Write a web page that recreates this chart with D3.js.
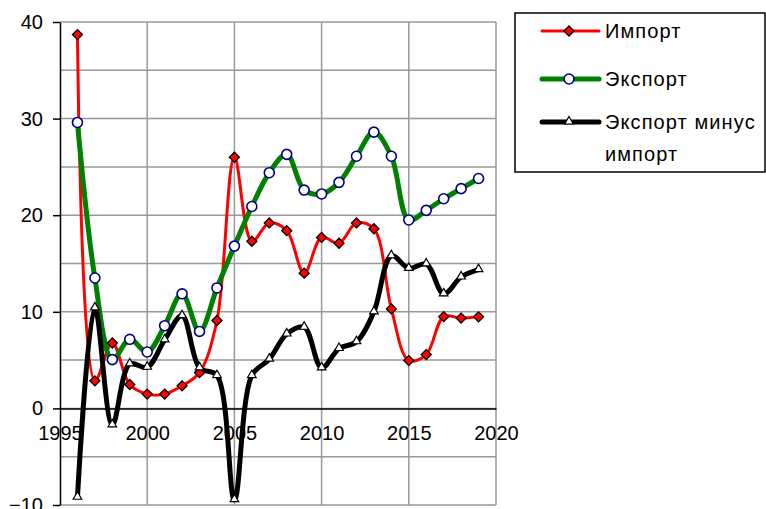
<!DOCTYPE html>
<html>
<head>
<meta charset="utf-8">
<script src="https://cdn.jsdelivr.net/npm/d3@7"></script>
<style>
  body { margin: 0; background: #fff; }
  text { font-family: "Liberation Sans", Arial, sans-serif; }
</style>
</head>
<body>
<div id="chart"></div>
<script>
"use strict";

var years = d3.range(1996, 2020);
var importVals = [38.7, 2.85, 6.77, 2.47, 1.48, 1.48, 2.34, 3.7, 9.1, 26.0, 17.3, 19.2,
                  18.4, 14.0, 17.7, 17.1, 19.2, 18.6, 10.3, 4.95, 5.57, 9.5, 9.35, 9.48];
var exportVals = [29.6, 13.5, 5.05, 7.15, 5.84, 8.56, 11.86, 7.97, 12.47, 16.8, 20.9, 24.4,
                  26.3, 22.6, 22.2, 23.4, 26.1, 28.6, 26.1, 19.5, 20.5, 21.7, 22.75, 23.8];
var balanceVals = [-9.2, 10.4, -1.7, 4.6, 4.26, 7.1, 9.6, 4.2, 3.4, -9.45, 3.4, 5.1,
                   7.7, 8.4, 4.2, 6.2, 6.9, 10.0, 15.8, 14.5, 14.95, 11.86, 13.6, 14.36];
var seriesNames = ["Импорт", "Экспорт", "Экспорт минус", "импорт"];
var xTicks = [1995, 2000, 2005, 2010, 2015, 2020];
var yTicks = [-10, 0, 10, 20, 30, 40];
var yGrid = d3.range(-10, 41, 5);

var width = 766, height = 509;
var svg = d3.select("#chart").append("svg")
  .attr("width", width)
  .attr("height", height);

// set the ranges
var x = d3.scaleLinear().domain([1995, 2020]).range([60, 496]);
var y = d3.scaleLinear().domain([-10, 40]).range([505, 22]);

// grid
svg.append("g").selectAll("line.h")
  .data(yGrid).enter().append("line")
  .attr("x1", x(1995)).attr("x2", x(2020))
  .attr("y1", function(d) { return y(d); })
  .attr("y2", function(d) { return y(d); })
  .attr("stroke", "#999").attr("stroke-width", 1.5);

svg.append("g").selectAll("line.v")
  .data(xTicks.slice(1)).enter().append("line")
  .attr("x1", function(d) { return x(d); })
  .attr("x2", function(d) { return x(d); })
  .attr("y1", y(40)).attr("y2", y(-10))
  .attr("stroke", "#999").attr("stroke-width", 1.5);

// y axis
var yAxis = svg.append("g")
  .attr("transform", "translate(" + x(1995) + ",0)")
  .call(d3.axisLeft(y).tickValues(yTicks).tickSize(7).tickSizeOuter(0).tickPadding(10));
yAxis.select(".domain").attr("stroke", "#000").attr("stroke-width", 1.5);
yAxis.selectAll(".tick line").attr("stroke", "#000").attr("stroke-width", 1.5);
yAxis.selectAll("text").attr("font-size", 20).attr("fill", "#000")
  .style("font-family", "'Liberation Sans', Arial, sans-serif");

// x axis at zero
var xAxis = svg.append("g")
  .attr("transform", "translate(0," + y(0) + ")")
  .call(d3.axisBottom(x).tickValues(xTicks).tickFormat(d3.format("d")).tickSize(0).tickPadding(17));
xAxis.select(".domain").attr("stroke", "#000").attr("stroke-width", 1.5);
xAxis.selectAll("text").attr("font-size", 20).attr("fill", "#000")
  .attr("dy", "0.35em").attr("y", 25)
  .style("font-family", "'Liberation Sans', Arial, sans-serif");

var line = d3.line()
  .x(function(d) { return x(d.year); })
  .y(function(d) { return y(d.v); })
  .curve(d3.curveCatmullRom.alpha(0.5));

function toPts(vals) {
  return vals.map(function(v, i) { return {year: years[i], v: v}; });
}

var series = [
  {vals: importVals, color: "#ff0000", w: 3, marker: "diamond"},
  {vals: exportVals, color: "#008000", w: 5, marker: "circle"},
  {vals: balanceVals, color: "#000000", w: 5, marker: "triangle"}
];

var sym = {
  diamond: d3.symbol().type(d3.symbolSquare).size(50),
  circle: d3.symbol().type(d3.symbolCircle).size(78),
  triangle: d3.symbol().type(d3.symbolTriangle).size(32)
};

function drawMarker(g, kind, cx, cy) {
  if (kind === "diamond") {
    g.append("path").attr("d", sym.diamond())
      .attr("transform", "translate(" + cx + "," + cy + ") rotate(45)")
      .attr("fill", "#ff0000").attr("stroke", "#000").attr("stroke-width", 1.3);
  } else if (kind === "circle") {
    g.append("path").attr("d", sym.circle())
      .attr("transform", "translate(" + cx + "," + cy + ")")
      .attr("fill", "#fff").attr("stroke", "#000080").attr("stroke-width", 1.6);
  } else {
    g.append("path").attr("d", sym.triangle())
      .attr("transform", "translate(" + cx + "," + (cy - 0.5) + ")")
      .attr("fill", "#fff").attr("stroke", "#000").attr("stroke-width", 1.2);
  }
}

series.forEach(function(s) {
  var pts = toPts(s.vals);
  svg.append("path").datum(pts)
    .attr("d", line)
    .attr("fill", "none")
    .attr("stroke", s.color)
    .attr("stroke-width", s.w)
    .attr("stroke-linejoin", "round");
});
series.forEach(function(s) {
  var g = svg.append("g");
  toPts(s.vals).forEach(function(p) {
    drawMarker(g, s.marker, x(p.year), y(p.v));
  });
});

// legend
var lg = svg.append("g");
lg.append("rect")
  .attr("x", 515).attr("y", 13).attr("width", 250).attr("height", 159)
  .attr("fill", "#fff").attr("stroke", "#000").attr("stroke-width", 1.5);
var rows = [31, 79, 122];
series.forEach(function(s, i) {
  lg.append("line")
    .attr("x1", 542).attr("x2", 599)
    .attr("y1", rows[i]).attr("y2", rows[i])
    .attr("stroke", s.color).attr("stroke-width", s.w)
    .attr("stroke-linecap", "round");
  drawMarker(lg, s.marker, 569, rows[i]);
});
var labelY = [31, 79, 122, 154];
seriesNames.forEach(function(t, i) {
  lg.append("text")
    .attr("x", 605).attr("y", labelY[i])
    .attr("dy", "0.35em")
    .attr("font-size", 20)
    .attr("letter-spacing", 1.1)
    .text(t);
});
</script>
</body>
</html>
